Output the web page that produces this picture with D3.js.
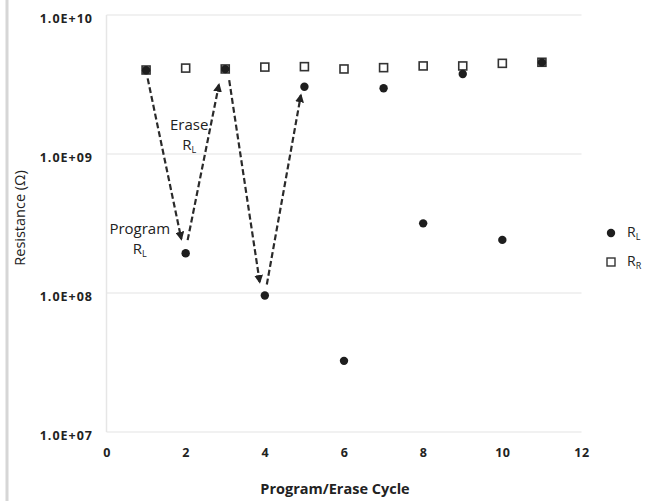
<!DOCTYPE html>
<html>
<head>
<meta charset="utf-8">
<script src="https://cdn.jsdelivr.net/npm/d3@7"></script>
<style>
  html, body { margin: 0; padding: 0; background: #fff; }
  svg { display: block; font-family: "Open Sans", Lato, sans-serif; }
</style>
</head>
<body>
<svg id="chart" width="651" height="501"></svg>
<script>
// ---- data ----
const cycles = [1, 2, 3, 4, 5, 6, 7, 8, 9, 10, 11];
const rL = [4.0e9, 1.93e8, 4.08e9, 9.6e7, 3.05e9, 3.25e7, 2.97e9, 3.17e8, 3.76e9, 2.41e8, 4.56e9];
const rR = [4.02e9, 4.15e9, 4.09e9, 4.22e9, 4.25e9, 4.09e9, 4.18e9, 4.3e9, 4.3e9, 4.49e9, 4.57e9];
const xTicks = [0, 2, 4, 6, 8, 10, 12];
const yTicks = [1e7, 1e8, 1e9, 1e10];
const yTickLabels = ["1.0E+07", "1.0E+08", "1.0E+09", "1.0E+10"];
const seriesNames = ["R", "R"];
const seriesSubs = ["L", "R"];
// annotation arrows: [x0, y0, x1, y1] in data units
const arrows = [
  [1.04, 3.5e9, 1.89, 2.45e8],
  [2.05, 2.4e8, 2.84, 3.15e9],
  [3.1, 3.4e9, 3.87, 1.2e8],
  [4.05, 1.15e8, 4.91, 2.65e9]
];
const annotations = [
  { x: 2.09, y: 1.5e9, lines: ["Erase", "R"], subs: [null, "L"] },
  { x: 0.84, y: 2.65e8, lines: ["Program", "R"], subs: [null, "L"] }
];

// ---- layout ----
const svg = d3.select("#chart");
const x = d3.scaleLinear().domain([0, 12]).range([106.5, 581.5]);
const y = d3.scaleLog().domain([1e7, 1e10]).range([432, 15]);

// image border on the left
svg.append("line").attr("x1", 7).attr("x2", 7).attr("y1", 0).attr("y2", 501)
  .attr("stroke", "#d6d6d6").attr("stroke-width", 3);

// gridlines
svg.append("g").selectAll("line").data(yTicks).join("line")
  .attr("x1", x(0)).attr("x2", x(12))
  .attr("y1", d => y(d)).attr("y2", d => y(d))
  .attr("stroke", "#ececec").attr("stroke-width", 1.5);
svg.append("line").attr("x1", x(0)).attr("x2", x(0)).attr("y1", y(1e10)).attr("y2", y(1e7))
  .attr("stroke", "#e6e6e6").attr("stroke-width", 1.5);

// y axis labels
const yAxis = d3.axisLeft(y).tickValues(yTicks).tickFormat((d, i) => yTickLabels[i]).tickSize(0).tickPadding(0);
const gy = svg.append("g").attr("transform", `translate(93,3)`).call(yAxis);
gy.select(".domain").remove();
gy.selectAll("text").attr("font-size", 12.5).attr("font-weight", "bold").attr("fill", "#222")
  .attr("letter-spacing", 1).attr("font-family", "'Open Sans', sans-serif");

// x axis labels
const xAxis = d3.axisBottom(x).tickValues(xTicks).tickSize(0).tickPadding(0);
const gx = svg.append("g").attr("transform", `translate(0,448)`).call(xAxis);
gx.select(".domain").remove();
gx.selectAll("text").attr("font-size", 12.5).attr("font-weight", "bold").attr("fill", "#222")
  .attr("letter-spacing", 0.5).attr("font-family", "'Open Sans', sans-serif");

// axis titles
svg.append("text").attr("x", 335).attr("y", 494).attr("text-anchor", "middle")
  .attr("font-size", 14.5).attr("font-weight", "bold").attr("fill", "#222").text("Program/Erase Cycle");
svg.append("text").attr("transform", "translate(25,218) rotate(-90)").attr("text-anchor", "middle")
  .attr("font-size", 14.5).attr("fill", "#222").text("Resistance (Ω)");

// arrows
svg.append("defs").append("marker").attr("id", "ah").attr("viewBox", "0 0 10 10")
  .attr("refX", 8).attr("refY", 5).attr("markerWidth", 4).attr("markerHeight", 4)
  .attr("orient", "auto").append("path").attr("d", "M0,0L10,5L0,10z").attr("fill", "#222");
svg.append("g").selectAll("line").data(arrows).join("line")
  .attr("x1", d => x(d[0])).attr("y1", d => y(d[1]))
  .attr("x2", d => x(d[2])).attr("y2", d => y(d[3]))
  .attr("stroke", "#2a2a2a").attr("stroke-width", 2.2).attr("stroke-dasharray", "6,3")
  .attr("marker-end", "url(#ah)");

// annotation texts
annotations.forEach(a => {
  const cx = x(a.x), cy = y(a.y);
  a.lines.forEach((ln, i) => {
    const t = svg.append("text").attr("x", cx).attr("y", cy + i * 20).attr("text-anchor", "middle")
      .attr("font-size", 15).attr("fill", "#222");
    t.append("tspan").text(ln);
    if (a.subs[i]) t.append("tspan").attr("font-size", 9).attr("dy", 3).text(a.subs[i]);
  });
});

// series R_R (open squares)
const sq = 8;
svg.append("g").selectAll("rect").data(cycles).join("rect")
  .attr("x", (d) => x(d) - sq / 2).attr("y", (d, i) => y(rR[i]) - sq / 2)
  .attr("width", sq).attr("height", sq)
  .attr("fill", "#fff").attr("stroke", "#333").attr("stroke-width", 1.6);

// series R_L (filled circles)
svg.append("g").selectAll("circle").data(cycles).join("circle")
  .attr("cx", d => x(d)).attr("cy", (d, i) => y(rL[i]))
  .attr("r", 4.2).attr("fill", "#1e1e1e");

// legend
const lg = svg.append("g");
lg.append("circle").attr("cx", 611).attr("cy", 233).attr("r", 4.2).attr("fill", "#1e1e1e");
lg.append("rect").attr("x", 607).attr("y", 258).attr("width", sq).attr("height", sq)
  .attr("fill", "#fff").attr("stroke", "#333").attr("stroke-width", 1.4);
[233, 262].forEach((yy, i) => {
  const t = lg.append("text").attr("x", 627).attr("y", yy + 4).attr("font-size", 14).attr("fill", "#222");
  t.append("tspan").text(seriesNames[i]);
  t.append("tspan").attr("font-size", 9).attr("dy", 3).text(seriesSubs[i]);
});
</script>
</body>
</html>
